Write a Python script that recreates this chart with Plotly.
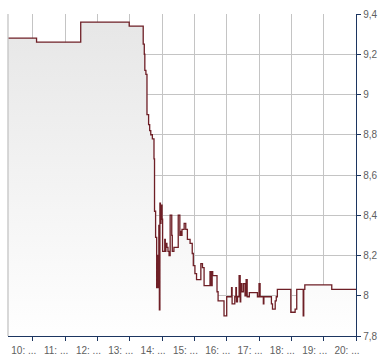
import plotly.graph_objects as go

day = "2024-01-15 "
times = ["09:14", "10:07", "11:29", "12:59", "13:25", "13:27", "13:28", "13:30", "13:32", "13:35",
         "13:37", "13:39", "13:42", "13:45", "13:46", "13:48", "13:50", "13:51", "13:52", "13:54",
         "13:55", "13:56", "13:57", "13:58", "13:59", "14:00", "14:01", "14:05", "14:06", "14:07",
         "14:09", "14:11", "14:13", "14:15", "14:18", "14:19", "14:22", "14:30", "14:31", "14:33",
         "14:35", "14:36", "14:37", "14:41", "14:44", "14:47", "14:52", "14:56", "14:58", "15:01",
         "15:04", "15:10", "15:12", "15:15", "15:18", "15:22", "15:29", "15:31", "15:33", "15:34",
         "15:42", "15:44", "15:55", "16:00", "16:09", "16:10", "16:15", "16:17", "16:18", "16:20",
         "16:23", "16:25", "16:26", "16:28", "16:31", "16:34", "16:36", "16:38", "16:42", "16:57",
         "17:00", "17:02", "17:08", "17:09", "17:23", "17:25", "17:30", "17:32", "17:34", "17:59",
         "18:07", "18:10", "18:22", "18:23", "18:25", "19:15", "20:00"]
prices = [9.28, 9.26, 9.36, 9.34, 9.25, 9.20, 9.12, 9.10, 8.90, 8.85,
          8.82, 8.80, 8.78, 8.68, 8.42, 8.29, 8.04, 8.20, 8.04, 8.35,
          7.93, 8.46, 8.36, 8.44, 8.45, 8.38, 8.22, 8.28, 8.22, 8.26,
          8.24, 8.22, 8.20, 8.40, 8.30, 8.22, 8.24, 8.40, 8.40, 8.30,
          8.32, 8.30, 8.33, 8.36, 8.33, 8.28, 8.26, 8.21, 8.15, 8.11,
          8.08, 8.08, 8.16, 8.14, 8.05, 8.05, 8.12, 8.05, 8.12, 8.10,
          8.02, 7.975, 7.90, 7.995, 8.04, 7.96, 7.995, 8.04, 7.97, 7.995,
          8.10, 7.97, 8.06, 8.02, 8.06, 8.00, 8.08, 7.995, 8.016, 7.995,
          8.06, 7.995, 7.96, 7.995, 7.96, 7.934, 7.975, 7.995, 8.032, 7.918,
          7.934, 8.032, 7.90, 8.032, 8.054, 8.032, 8.032]

hour_ticks = [f"{h}:00" for h in range(10, 21)]
hour_labels = [f"{h}: ..." for h in range(10, 21)]
y_ticks = [7.8, 8.0, 8.2, 8.4, 8.6, 8.8, 9.0, 9.2, 9.4]

x = [day + t for t in times]

fig = go.Figure()
fig.add_trace(go.Scatter(
    x=x, y=prices, mode="lines", line=dict(shape="hv", color="#6e1f26", width=1.3),
    fill="tozeroy",
    fillgradient=dict(type="vertical", start=7.8, stop=9.4,
                      colorscale=[[0, "#ffffff"], [1, "#e6e6e6"]]),
    hoverinfo="skip",
))

navy = "#1c3560"
fig.update_layout(
    width=390, height=364,
    margin=dict(l=8, r=34, t=12, b=23),
    paper_bgcolor="white", plot_bgcolor="white",
    showlegend=False,
    separators=", ",
    font=dict(family="Liberation Sans, Arial, sans-serif", size=10, color="#606060"),
    xaxis=dict(
        type="date",
        range=[day + "09:14", day + "20:00"],
        tickvals=[day + t for t in hour_ticks], ticktext=hour_labels,
        ticklabelshift=-9, ticklabelstandoff=1,
        showgrid=True, gridcolor="#c4c4c4", gridwidth=1.3,
        showline=True, linecolor=navy, linewidth=1.3,
        ticks="outside", ticklen=4, tickcolor=navy, tickwidth=1,
        zeroline=False,
    ),
    yaxis=dict(
        side="right", range=[7.8, 9.4],
        tickvals=y_ticks, ticklabelstandoff=0,
        showgrid=True, gridcolor="#c4c4c4", gridwidth=1.3,
        showline=True, linecolor=navy, linewidth=1.3,
        ticks="outside", ticklen=4, tickcolor=navy, tickwidth=1,
        zeroline=False,
    ),
    shapes=[dict(type="line", xref="paper", yref="paper", x0=0, x1=0, y0=0, y1=1,
                 line=dict(color="#c4c4c4", width=1.3), layer="above")],
)

fig.write_html("out.html")
